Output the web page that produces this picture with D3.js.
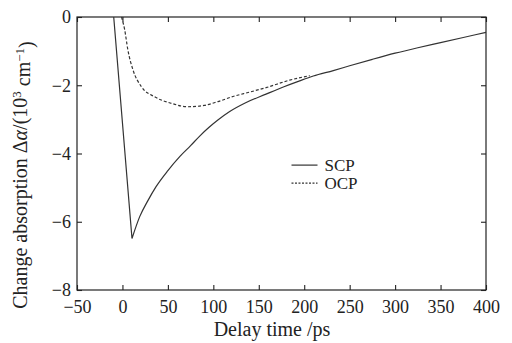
<!DOCTYPE html>
<html>
<head>
<meta charset="utf-8">
<script src="https://cdn.jsdelivr.net/npm/d3@7"></script>
<style>
  body { margin: 0; background: #fff; }
  text { font-family: "Liberation Serif", "DejaVu Serif", serif; fill: #222; }
</style>
</head>
<body>
<div id="chart"></div>
<script>
// SCP curve (delay in ps, change absorption in 10^3 cm^-1)
const scpTime = [-9.6, 10.5, 19, 28, 37, 50, 63, 75, 85, 95, 105, 118, 135, 158, 177, 195, 210, 232, 250, 275, 300, 325, 350, 375, 400];
const scpValue = [0, -6.49, -5.85, -5.38, -4.97, -4.5, -4.09, -3.77, -3.49, -3.24, -3.02, -2.77, -2.52, -2.26, -2.05, -1.87, -1.73, -1.57, -1.43, -1.24, -1.06, -0.9, -0.75, -0.6, -0.45];

// OCP curve
const ocpTime = [-1, 2.5, 6, 11.6, 20.8, 35.5, 53.8, 72, 90, 105, 121.6, 140, 158, 184, 206];
const ocpValue = [0, -0.38, -0.97, -1.55, -2.04, -2.34, -2.53, -2.63, -2.59, -2.48, -2.33, -2.2, -2.07, -1.85, -1.72];

const xTicks = [-50, 0, 50, 100, 150, 200, 250, 300, 350, 400];
const yTicks = [0, -2, -4, -6, -8];

const margin = { top: 17, right: 26, bottom: 53, left: 77 };
const width = 512 - margin.left - margin.right;
const height = 343 - margin.top - margin.bottom;

const svg = d3.select('#chart')
  .append('svg')
  .attr('width', 512)
  .attr('height', 343);

const g = svg.append('g')
  .attr('transform', `translate(${margin.left},${margin.top})`);

const xScale = d3.scaleLinear().domain([-50, 400]).range([0, width]);
const yScale = d3.scaleLinear().domain([-8, 0]).range([height, 0]);

// frame
g.append('rect')
  .attr('width', width)
  .attr('height', height)
  .attr('fill', 'none')
  .attr('stroke', '#222')
  .attr('stroke-width', 1.2);

// axes, ticks pointing inward
const bottomAxis = g.append('g')
  .attr('transform', `translate(0,${height})`)
  .call(d3.axisBottom(xScale).tickValues(xTicks).tickSize(-5).tickPadding(10));
const leftAxis = g.append('g')
  .call(d3.axisLeft(yScale).tickValues(yTicks).tickSize(-5).tickPadding(6));
const topAxis = g.append('g')
  .call(d3.axisTop(xScale).tickValues(xTicks).tickSize(-5).tickFormat(''));
const rightAxis = g.append('g')
  .attr('transform', `translate(${width},0)`)
  .call(d3.axisRight(yScale).tickValues(yTicks).tickSize(-5).tickFormat(''));

[bottomAxis, leftAxis, topAxis, rightAxis].forEach((ax) => {
  ax.select('.domain').remove();
  ax.selectAll('line').attr('stroke', '#222').attr('stroke-width', 1.1);
  ax.selectAll('text')
    .style('font-family', '"Liberation Serif", serif')
    .style('font-size', '18px')
    .attr('fill', '#222');
});
leftAxis.selectAll('text').attr('dy', '0.32em');

// lines
const scpData = scpTime.map((t, i) => [t, scpValue[i]]);
const ocpData = ocpTime.map((t, i) => [t, ocpValue[i]]);

// SCP drops linearly to a sharp minimum, then recovers smoothly
const minIndex = d3.minIndex(scpData, (d) => d[1]);
const straight = d3.line()
  .x((d) => xScale(d[0]))
  .y((d) => yScale(d[1]));
const smooth = d3.line()
  .x((d) => xScale(d[0]))
  .y((d) => yScale(d[1]))
  .curve(d3.curveMonotoneX);

g.append('path')
  .attr('d', straight(scpData.slice(0, minIndex + 1)) + smooth(scpData.slice(minIndex)).replace(/^M/, 'L'))
  .attr('fill', 'none')
  .attr('stroke', '#333')
  .attr('stroke-width', 1.2)
  .attr('stroke-linejoin', 'miter');

g.append('path')
  .datum(ocpData)
  .attr('d', smooth)
  .attr('fill', 'none')
  .attr('stroke', '#333')
  .attr('stroke-width', 1.2)
  .attr('stroke-dasharray', '3,2');

// legend
const legend = g.append('g').attr('transform', `translate(${xScale(186)},${yScale(-4.34)})`);
const legendItems = [['SCP', null], ['OCP', '2,1.5']];
legendItems.forEach(([name, dash], i) => {
  const row = legend.append('g').attr('transform', `translate(0,${i * 18})`);
  row.append('line')
    .attr('x1', 0).attr('x2', 26)
    .attr('stroke', '#333').attr('stroke-width', 1.2)
    .attr('stroke-dasharray', dash);
  row.append('text')
    .attr('x', 33).attr('y', 6)
    .style('font-size', '17px')
    .text(name);
});

// axis titles
svg.append('text')
  .attr('x', 272)
  .attr('y', 336)
  .attr('text-anchor', 'middle')
  .style('font-size', '20px')
  .text('Delay time /ps');

const yTitle = svg.append('text')
  .attr('transform', `translate(27,175) rotate(-90)`)
  .attr('text-anchor', 'middle')
  .style('font-size', '20px');
yTitle.append('tspan').text('Change absorption Δ');
yTitle.append('tspan').style('font-style', 'italic').text('α');
yTitle.append('tspan').text('/(10');
yTitle.append('tspan').attr('dy', '-0.45em').style('font-size', '13px').text('3');
yTitle.append('tspan').attr('dy', '0.45em').text(' cm');
yTitle.append('tspan').attr('dy', '-0.45em').style('font-size', '13px').text('−1');
yTitle.append('tspan').attr('dy', '0.45em').text(')');
</script>
</body>
</html>
